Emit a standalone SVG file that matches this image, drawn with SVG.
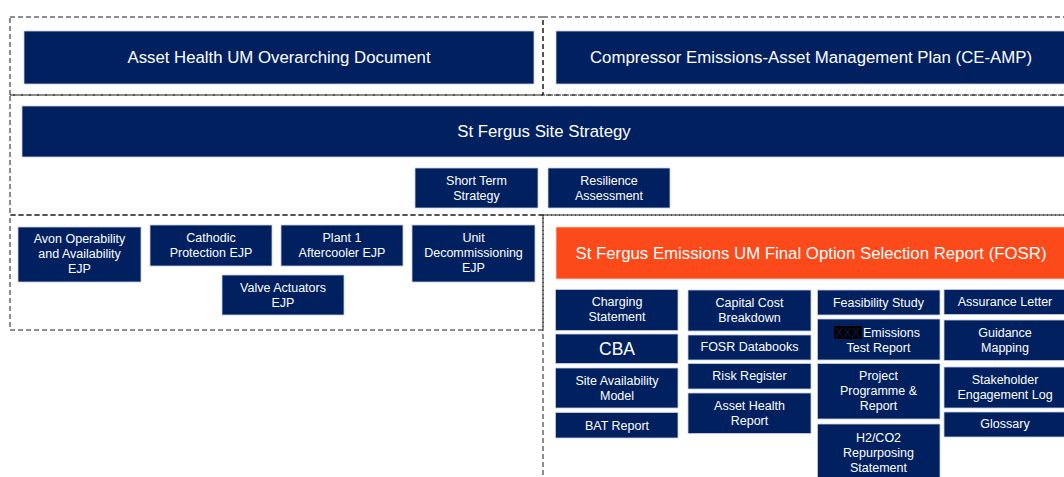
<svg xmlns="http://www.w3.org/2000/svg" width="1064" height="477" viewBox="0 0 1064 477">
  <style>
    .zone { fill: none; stroke: #1a1a1a; stroke-width: 1; stroke-dasharray: 5 3; }
    .box { fill: #002060; stroke: #c9d0e0; stroke-width: 0.8; }
    .hot { fill: #FC4A1A; stroke: #ffd0c0; stroke-width: 0.8; }
    text { font-family: "Liberation Sans", Arial, sans-serif; fill: #ffffff; text-anchor: middle; }
    .t16 { font-size: 16.8px; }
    .t12 { font-size: 12.5px; }
    .t17 { font-size: 17.5px; }
  </style>
  <rect width="1064" height="477" fill="#ffffff"/>

  <!-- grouping zones -->
  <g id="zones">
    <rect class="zone" x="10" y="17" width="533" height="78"/>
    <rect class="zone" x="543" y="17" width="530" height="78"/>
    <rect class="zone" x="10" y="95" width="1063" height="120"/>
    <rect class="zone" x="10" y="215" width="533" height="115"/>
    <rect class="zone" x="543" y="215" width="530" height="280"/>
  </g>

  <!-- top-level documents -->
  <g id="asset-health-doc">
    <rect class="box" x="24" y="31" width="510" height="53"/>
    <text class="t16" x="279" y="63">Asset Health UM Overarching Document</text>
  </g>
  <g id="ce-amp">
    <rect class="box" x="556" y="31" width="520" height="53"/>
    <text class="t16" x="811" y="63">Compressor Emissions-Asset Management Plan (CE-AMP)</text>
  </g>

  <g id="site-strategy">
    <rect class="box" x="22" y="106" width="1060" height="51"/>
    <text class="t16" x="544" y="137">St Fergus Site Strategy</text>
  </g>
  <g id="short-term-strategy">
    <rect class="box" x="415" y="168" width="123" height="40"/>
    <text class="t12" x="476.5" y="185">Short Term</text>
    <text class="t12" x="476.5" y="200">Strategy</text>
  </g>
  <g id="resilience-assessment">
    <rect class="box" x="548" y="168" width="122" height="40"/>
    <text class="t12" x="609" y="185">Resilience</text>
    <text class="t12" x="609" y="200">Assessment</text>
  </g>

  <!-- engineering justification papers -->
  <g id="avon-ejp">
    <rect class="box" x="18" y="227" width="123" height="55"/>
    <text class="t12" x="79.5" y="243">Avon Operability</text>
    <text class="t12" x="79.5" y="258">and Availability</text>
    <text class="t12" x="79.5" y="273">EJP</text>
  </g>
  <g id="cathodic-ejp">
    <rect class="box" x="150" y="225" width="122" height="41"/>
    <text class="t12" x="211" y="242">Cathodic</text>
    <text class="t12" x="211" y="257">Protection EJP</text>
  </g>
  <g id="aftercooler-ejp">
    <rect class="box" x="281" y="225" width="122" height="41"/>
    <text class="t12" x="342" y="242">Plant 1</text>
    <text class="t12" x="342" y="257">Aftercooler EJP</text>
  </g>
  <g id="decommissioning-ejp">
    <rect class="box" x="412" y="225" width="123" height="57"/>
    <text class="t12" x="473.5" y="242">Unit</text>
    <text class="t12" x="473.5" y="257">Decommissioning</text>
    <text class="t12" x="473.5" y="272">EJP</text>
  </g>
  <g id="valve-ejp">
    <rect class="box" x="222" y="275" width="122" height="40"/>
    <text class="t12" x="283" y="292">Valve Actuators</text>
    <text class="t12" x="283" y="307">EJP</text>
  </g>

  <!-- final option selection report -->
  <g id="fosr">
    <rect class="hot" x="556" y="227" width="520" height="52"/>
    <text class="t16" x="811" y="259">St Fergus Emissions UM Final Option Selection Report (FOSR)</text>
  </g>

  <!-- FOSR appendices, column 1 -->
  <g id="charging-statement">
    <rect class="box" x="555.5" y="289.5" width="122.5" height="41"/>
    <text class="t12" x="617" y="306">Charging</text>
    <text class="t12" x="617" y="321">Statement</text>
  </g>
  <g id="cba">
    <rect class="box" x="555.5" y="334" width="122.5" height="29.5"/>
    <text class="t17" x="617" y="355">CBA</text>
  </g>
  <g id="site-availability">
    <rect class="box" x="555.5" y="368" width="122.5" height="40"/>
    <text class="t12" x="617" y="385">Site Availability</text>
    <text class="t12" x="617" y="400">Model</text>
  </g>
  <g id="bat-report">
    <rect class="box" x="555.5" y="412.5" width="122.5" height="25.5"/>
    <text class="t12" x="617" y="430">BAT Report</text>
  </g>

  <!-- column 2 -->
  <g id="capital-cost">
    <rect class="box" x="688" y="290" width="123" height="41"/>
    <text class="t12" x="749.5" y="307">Capital Cost</text>
    <text class="t12" x="749.5" y="322">Breakdown</text>
  </g>
  <g id="fosr-databooks">
    <rect class="box" x="688" y="335" width="123" height="25"/>
    <text class="t12" x="749.5" y="351">FOSR Databooks</text>
  </g>
  <g id="risk-register">
    <rect class="box" x="688" y="363.5" width="123" height="25.5"/>
    <text class="t12" x="749.5" y="380">Risk Register</text>
  </g>
  <g id="asset-health-report">
    <rect class="box" x="688" y="393" width="123" height="40.5"/>
    <text class="t12" x="749.5" y="410">Asset Health</text>
    <text class="t12" x="749.5" y="425">Report</text>
  </g>

  <!-- column 3 -->
  <g id="feasibility-study">
    <rect class="box" x="817.5" y="290" width="122.5" height="25"/>
    <text class="t12" x="878.5" y="307">Feasibility Study</text>
  </g>
  <g id="emissions-test-report">
    <rect class="box" x="817.5" y="319" width="122.5" height="41"/>
    <rect x="834" y="326" width="28" height="13" fill="#000000"/>
    <text class="t12" x="835" y="337" style="text-anchor:start"><tspan fill="#0b1a4d">XXX</tspan><tspan x="863">Emissions</tspan></text>
    <text class="t12" x="878.5" y="352">Test Report</text>
  </g>
  <g id="project-programme">
    <rect class="box" x="817.5" y="363.5" width="122.5" height="55.5"/>
    <text class="t12" x="878.5" y="380">Project</text>
    <text class="t12" x="878.5" y="395">Programme &amp;</text>
    <text class="t12" x="878.5" y="410">Report</text>
  </g>
  <g id="repurposing-statement">
    <rect class="box" x="817.5" y="424" width="122.5" height="60"/>
    <text class="t12" x="878.5" y="442">H2/CO2</text>
    <text class="t12" x="878.5" y="457">Repurposing</text>
    <text class="t12" x="878.5" y="472">Statement</text>
  </g>

  <!-- column 4 -->
  <g id="assurance-letter">
    <rect class="box" x="944" y="289.5" width="125" height="25"/>
    <text class="t12" x="1005" y="306">Assurance Letter</text>
  </g>
  <g id="guidance-mapping">
    <rect class="box" x="944" y="320" width="125" height="40.5"/>
    <text class="t12" x="1005" y="337">Guidance</text>
    <text class="t12" x="1005" y="352">Mapping</text>
  </g>
  <g id="stakeholder-log">
    <rect class="box" x="944" y="367" width="125" height="41"/>
    <text class="t12" x="1005" y="384">Stakeholder</text>
    <text class="t12" x="1005" y="399">Engagement Log</text>
  </g>
  <g id="glossary">
    <rect class="box" x="944" y="412" width="125" height="25"/>
    <text class="t12" x="1005" y="428">Glossary</text>
  </g>

  <!-- no connectors are drawn between the document blocks -->
  <g id="connectors"></g>
</svg>
